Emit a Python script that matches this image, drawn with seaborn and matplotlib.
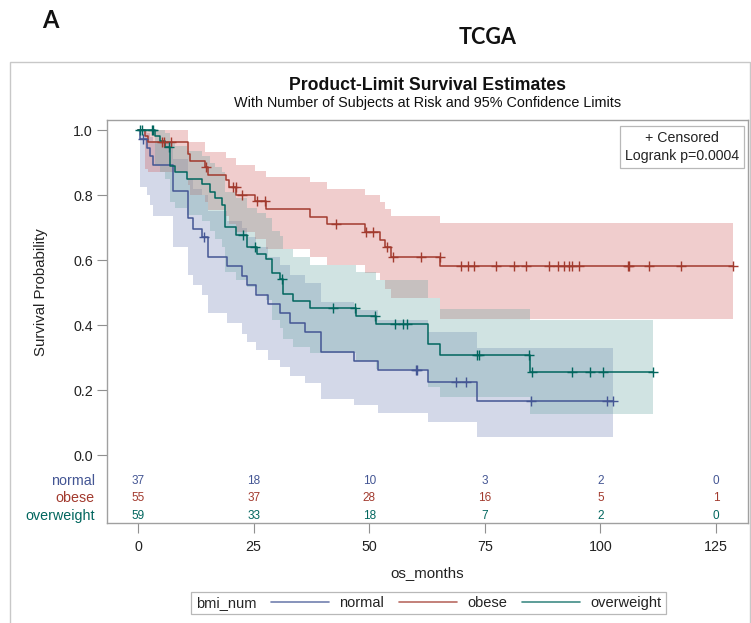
import numpy as np
import pandas as pd
import matplotlib
matplotlib.use("Agg")
import matplotlib.pyplot as plt
import seaborn as sns
from matplotlib.lines import Line2D
from matplotlib.patches import Rectangle

# ---------------- data ----------------
groups = ["normal", "obese", "overweight"]

normal_t = [0, 0.4, 1.9, 2.6, 3.3, 7.6, 10.9, 12.0, 13.8, 15.2, 19.2, 22.4, 23.5, 25.5,
            28.2, 30.6, 32.9, 36.2, 39.5, 46.7, 52.0, 62.8, 73.2]
normal_s = [1.0, 0.973, 0.946, 0.919, 0.892, 0.811, 0.730, 0.697, 0.671, 0.609, 0.582,
            0.552, 0.523, 0.494, 0.465, 0.436, 0.407, 0.378, 0.318, 0.290, 0.262, 0.224, 0.166]
normal_lo = [1.0, 0.826, 0.800, 0.770, 0.735, 0.641, 0.554, 0.523, 0.492, 0.436, 0.405,
             0.374, 0.349, 0.323, 0.294, 0.270, 0.244, 0.222, 0.174, 0.154, 0.131, 0.103, 0.056]
normal_hi = [1.0, 1.0, 0.99, 0.98, 0.965, 0.91, 0.85, 0.82, 0.80, 0.75, 0.72, 0.70, 0.67,
             0.64, 0.61, 0.585, 0.555, 0.53, 0.47, 0.445, 0.415, 0.378, 0.331]
normal_end = 102.7
normal_cens = [1.0, 14.3, 60.1, 60.4, 68.7, 70.9, 85.0, 101.5, 102.7]

obese_t = [0, 1.5, 2.2, 10.9, 11.3, 14.5, 15.2, 19.0, 19.7, 21.3, 25.3, 27.6, 37.2, 40.8,
           49.1, 52.3, 53.4, 54.6, 65.3]
obese_s = [1.0, 0.982, 0.964, 0.925, 0.904, 0.885, 0.863, 0.846, 0.826, 0.800, 0.783,
           0.757, 0.733, 0.711, 0.687, 0.662, 0.641, 0.610, 0.581]
obese_lo = [1.0, 0.88, 0.87, 0.83, 0.80, 0.78, 0.755, 0.735, 0.71, 0.685, 0.665, 0.635,
            0.61, 0.585, 0.561, 0.538, 0.51, 0.482, 0.418]
obese_hi = [1.0, 1.0, 1.0, 0.964, 0.964, 0.933, 0.933, 0.913, 0.913, 0.892, 0.875, 0.856,
            0.839, 0.82, 0.80, 0.78, 0.758, 0.737, 0.715]
obese_end = 128.7
obese_cens = [5.3, 5.7, 7.1, 14.7, 20.6, 21.2, 22.4, 25.7, 27.4, 42.8, 49.3, 50.8, 53.8,
              55.1, 61.2, 65.2, 69.9, 71.4, 72.7, 77.4, 81.4, 83.9, 88.8, 90.8, 92.1, 93.1,
              93.8, 95.4, 105.9, 106.1, 110.4, 117.4, 128.7]

over_t = [0, 3.7, 4.8, 5.8, 6.9, 8.0, 10.5, 13.8, 15.6, 16.7, 18.1, 18.8, 21.3, 23.5,
          25.8, 27.6, 28.9, 30.7, 31.3, 33.6, 37.2, 47.1, 51.5, 62.8, 65.2, 84.8]
over_s = [1.0, 0.983, 0.966, 0.949, 0.890, 0.872, 0.851, 0.834, 0.810, 0.790, 0.770,
          0.702, 0.677, 0.641, 0.620, 0.602, 0.559, 0.541, 0.497, 0.475, 0.453, 0.429,
          0.403, 0.341, 0.308, 0.256]
over_lo = [1.0, 0.89, 0.87, 0.85, 0.78, 0.76, 0.74, 0.72, 0.69, 0.665, 0.64, 0.564, 0.538,
           0.518, 0.497, 0.477, 0.415, 0.39, 0.356, 0.333, 0.313, 0.29, 0.265, 0.21, 0.18,
           0.125]
over_hi = [1.0, 1.0, 1.0, 0.99, 0.96, 0.95, 0.935, 0.92, 0.90, 0.885, 0.87, 0.81, 0.79,
           0.76, 0.745, 0.73, 0.69, 0.675, 0.635, 0.61, 0.585, 0.564, 0.538, 0.482, 0.451,
           0.415]
over_end = 111.3
over_cens = [0.4, 0.8, 3.0, 3.3, 6.6, 22.6, 25.3, 31.2, 42.1, 46.9, 51.3, 55.6, 57.4, 58.1,
             73.4, 73.7, 84.5, 85.3, 93.9, 97.8, 100.5, 111.3]

risk_times = [0, 25, 50, 75, 100, 125]
risk_normal = [37, 18, 10, 3, 2, 0]
risk_obese = [55, 37, 28, 16, 5, 1]
risk_over = [59, 33, 18, 7, 2, 0]

x_ticks = [0, 25, 50, 75, 100, 125]
y_ticks = [0.0, 0.2, 0.4, 0.6, 0.8, 1.0]

# ---------------- style ----------------
line_colors = {"normal": "#445694", "obese": "#A23A2E", "overweight": "#01665E"}
fill_colors = {"normal": "#6F7EB3", "obese": "#D05B5B", "overweight": "#66A5A0"}

sns.set_theme(style="white")
plt.rcParams["font.family"] = ["Liberation Sans Narrow", "Liberation Sans", "DejaVu Sans"]

W, H = 751, 623
fig = plt.figure(figsize=(W / 100, H / 100), dpi=100)
ax = fig.add_axes([107 / W, 1 - 523 / H, (748 - 107) / W, (523 - 120) / H])

# outer light border
fig.patches.append(Rectangle((10 / W, -0.01), (750 - 10) / W, 1.01 - 62 / H,
                             transform=fig.transFigure, fill=False,
                             edgecolor="#c8c8c8", lw=1.0))

data = {
    "normal": (normal_t, normal_s, normal_lo, normal_hi, normal_end, normal_cens),
    "obese": (obese_t, obese_s, obese_lo, obese_hi, obese_end, obese_cens),
    "overweight": (over_t, over_s, over_lo, over_hi, over_end, over_cens),
}

# confidence bands
for g in groups:
    t, s, lo, hi, end, cens = data[g]
    tt = np.array(t + [end])
    ax.fill_between(tt, np.array(lo + [lo[-1]]), np.array(hi + [hi[-1]]), step="post",
                    color=fill_colors[g], alpha=0.3, lw=0, zorder=1)

# survival curves + censor marks
for g in groups:
    t, s, lo, hi, end, cens = data[g]
    tt = np.array(t + [end])
    ss = np.array(s + [s[-1]])
    df = pd.DataFrame({"t": tt, "s": ss})
    sns.lineplot(data=df, x="t", y="s", drawstyle="steps-post", color=line_colors[g],
                 lw=1.1, ax=ax, estimator=None, sort=False, legend=False, zorder=3)
    c = np.array(cens)
    cy = ss[np.searchsorted(tt, c, side="right") - 1]
    sns.scatterplot(x=c, y=cy, marker="+", s=45, color=line_colors[g], linewidth=1.0,
                    ax=ax, legend=False, zorder=4)

# number at risk rows
risk = {"normal": risk_normal, "obese": risk_obese, "overweight": risk_over}
row_y = {"normal": -0.079, "obese": -0.133, "overweight": -0.188}
for g in groups:
    for xt, n in zip(risk_times, risk[g]):
        ax.text(xt, row_y[g], str(n), ha="center", va="center", fontsize=8.5,
                color=line_colors[g])
    ax.text(-0.019, row_y[g], g, transform=ax.get_yaxis_transform(), ha="right",
            va="center", fontsize=10.3, color=line_colors[g], clip_on=False)

# axes
ax.set_xlim(-6.7, 131.9)
ax.set_ylim(-0.209, 1.031)
ax.set_xticks(x_ticks)
ax.set_xticklabels([str(v) for v in x_ticks])
ax.set_yticks(y_ticks)
ax.set_yticklabels([f"{v:.1f}" for v in y_ticks])
ax.tick_params(axis="both", which="major", direction="out", length=7, width=0.8,
               color="#909090", labelsize=10.3, labelcolor="#222222")
ax.tick_params(axis="x", pad=5)
ax.tick_params(axis="y", pad=3)
ax.xaxis.set_ticks_position("bottom")
ax.yaxis.set_ticks_position("left")
for sp in ax.spines.values():
    sp.set_color("#a0a0a0")
    sp.set_linewidth(1.0)
ax.set_xlabel("os_months", fontsize=10.8, color="#222222", labelpad=9)
ax.set_ylabel("Survival Probability", fontsize=10.8, color="#222222")
ax.yaxis.set_label_coords((48 - 107) / (748 - 107), (523 - 292) / (523 - 120))

# inset box
ax.text(0.986, 0.973, "+ Censored\nLogrank p=0.0004", transform=ax.transAxes,
        ha="right", va="top", multialignment="center", fontsize=10.2, color="#222222",
        linespacing=1.4,
        bbox=dict(boxstyle="square,pad=0.35", facecolor="white", edgecolor="#b8b8b8",
                  lw=0.9), zorder=6)

# titles
fig.text(50 / W, 1 - 21 / H, "A", fontsize=17, fontweight="bold", ha="center",
         va="center", family=["Lato", "DejaVu Sans"], color="#111111")
fig.text(488 / W, 1 - 38 / H, "TCGA", fontsize=15.5, fontweight="bold", ha="center",
         va="center", family=["Lato", "DejaVu Sans"], color="#111111")
fig.text(428 / W, 1 - 85 / H, "Product-Limit Survival Estimates", fontsize=12.7,
         fontweight="bold", ha="center", va="center", color="#111111")
fig.text(428 / W, 1 - 103 / H, "With Number of Subjects at Risk and 95% Confidence Limits",
         fontsize=10.4, ha="center", va="center", color="#111111")

# legend
handles = [Line2D([], [], color=line_colors[g], lw=1.2, alpha=0.75) for g in groups]
leg = fig.legend(handles, groups, title="bmi_num", ncol=3, loc="center",
                 bbox_to_anchor=(428.5 / W, 1 - 603 / H), fontsize=10.5,
                 title_fontsize=10.5, frameon=True, fancybox=False, framealpha=1,
                 edgecolor="#b8b8b8", handlelength=4.0, handletextpad=0.7,
                 columnspacing=1.0, borderpad=0.3)
leg.get_frame().set_linewidth(0.9)
for txt in leg.get_texts():
    txt.set_color("#222222")
# put the legend title on the left of the entries
c = leg.get_children()[0]
title_box = c.get_children()[0]
hpack = c.get_children()[1]
c._children = [hpack]
hpack._children = [title_box] + hpack.get_children()

fig.savefig("out.png", dpi=100)
